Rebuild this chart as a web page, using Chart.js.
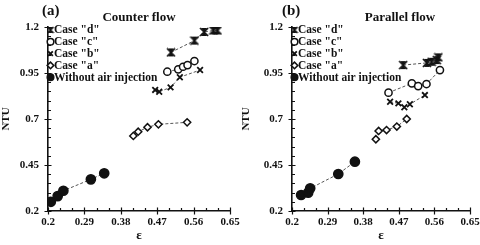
<!DOCTYPE html>
<html>
<head>
<meta charset="utf-8">
<script src="https://cdn.jsdelivr.net/npm/chart.js@4/dist/chart.umd.min.js"></script>
<style>
  html, body { margin: 0; padding: 0; background: #fff; }
  #wrap { position: relative; width: 480px; height: 245px; overflow: hidden;
          font-family: "Liberation Serif", "DejaVu Serif", serif; font-weight: bold; color: #111; }
  .panel { position: absolute; top: 0; width: 240px; height: 245px; }
  .tag { position: absolute; font-size: 15px; line-height: 1; }
  .ttl { position: absolute; font-size: 13px; line-height: 1; transform: translateX(-50%); white-space: nowrap; }
</style>
</head>
<body>
<div id="wrap">
  <div class="panel" style="left:0"><canvas id="chartA" width="240" height="245"></canvas></div>
  <div class="panel" style="left:240px"><canvas id="chartB" width="240" height="245"></canvas></div>
  <div class="tag" style="left:42px;top:3px">(a)</div>
  <div class="ttl" style="left:139px;top:10px">Counter flow</div>
  <div class="tag" style="left:282px;top:3px">(b)</div>
  <div class="ttl" style="left:400px;top:10px">Parallel flow</div>
</div>
<script>
// ---- data ----
const seriesNames = ['Case "d"', 'Case "c"', 'Case "b"', 'Case "a"', 'Without air injection'];

const xTicks = [0.2, 0.29, 0.38, 0.47, 0.56, 0.65];
const xTickLabels = ['0.2', '0.29', '0.38', '0.47', '0.56', '0.65'];
const yTicks = [0.2, 0.45, 0.7, 0.95, 1.2];
const yTickLabels = ['0.2', '0.45', '0.7', '0.95', '1.2'];

// (a) counter flow
const counterDEps = [0.504, 0.562, 0.586, 0.609, 0.619];
const counterDNtu = [1.062, 1.126, 1.173, 1.181, 1.181];
const counterCEps = [0.495, 0.522, 0.534, 0.545, 0.562];
const counterCNtu = [0.957, 0.970, 0.984, 0.993, 1.015];
const counterBEps = [0.465, 0.475, 0.503, 0.526, 0.576];
const counterBNtu = [0.858, 0.848, 0.872, 0.927, 0.966];
const counterAEps = [0.411, 0.423, 0.446, 0.473, 0.544];
const counterANtu = [0.608, 0.631, 0.655, 0.671, 0.682];
const counterWoEps = [0.207, 0.224, 0.238, 0.306, 0.339];
const counterWoNtu = [0.250, 0.281, 0.310, 0.372, 0.405];

// (b) parallel flow
const parallelDEps = [0.481, 0.541, 0.553, 0.566, 0.570];
const parallelDNtu = [0.993, 1.005, 1.011, 1.020, 1.035];
const parallelCEps = [0.444, 0.503, 0.519, 0.540, 0.574];
const parallelCNtu = [0.843, 0.894, 0.879, 0.890, 0.966];
const parallelBEps = [0.448, 0.469, 0.484, 0.498, 0.536];
const parallelBNtu = [0.794, 0.785, 0.764, 0.780, 0.830];
const parallelAEps = [0.412, 0.419, 0.439, 0.465, 0.490];
const parallelANtu = [0.590, 0.635, 0.640, 0.659, 0.700];
const parallelWoEps = [0.223, 0.241, 0.246, 0.317, 0.359];
const parallelWoNtu = [0.287, 0.300, 0.323, 0.401, 0.468];

const ink = '#111';
const serif = '"Liberation Serif", "DejaVu Serif", serif';
const xMinorStep = 0.03;
const yMinorStep = 0.05;

// hourglass-cross marker used for case "d"
function hourglassMarker(size) {
  const c = document.createElement('canvas');
  c.width = c.height = size;
  const g = c.getContext('2d');
  const m = 1, s = size - 1, h = size / 2;
  g.fillStyle = ink; g.strokeStyle = ink; g.lineWidth = 1.7;
  g.beginPath(); g.moveTo(m + 1, m); g.lineTo(s - 1, m); g.lineTo(h, h); g.closePath(); g.fill();
  g.beginPath(); g.moveTo(m + 1, s); g.lineTo(s - 1, s); g.lineTo(h, h); g.closePath(); g.fill();
  g.beginPath(); g.moveTo(m, m); g.lineTo(s, s); g.moveTo(s, m); g.lineTo(m, s); g.stroke();
  return c;
}
const markerD = hourglassMarker(10);
const markerDSmall = hourglassMarker(8);

const pts = (xs, ys) => xs.map((x, i) => ({ x: x, y: ys[i] }));

function series(label, xs, ys, look) {
  return Object.assign({
    label: label,
    data: pts(xs, ys),
    showLine: true,
    borderColor: '#555',
    borderWidth: 1,
    borderDash: [3, 2],
    pointBorderColor: ink,
    pointBackgroundColor: '#fff',
    pointBorderWidth: 1.5
  }, look);
}

// major ticks cross the axis, minor ticks point into the plot
const tickMarks = {
  id: 'tickMarks',
  afterDraw(chart) {
    const { ctx, chartArea: a, scales: { x, y } } = chart;
    ctx.save();
    ctx.strokeStyle = ink;
    ctx.lineWidth = 1.2;
    ctx.beginPath();
    for (let v = x.min; v <= x.max + 1e-9; v += xMinorStep) {
      const px = Math.round(x.getPixelForValue(v)) + 0.5;
      const major = xTicks.some(t => Math.abs(t - v) < 1e-6);
      ctx.moveTo(px, a.bottom + (major ? 3.5 : 0));
      ctx.lineTo(px, a.bottom - (major ? 3.5 : 3));
    }
    for (let v = y.min; v <= y.max + 1e-9; v += yMinorStep) {
      const py = Math.round(y.getPixelForValue(v)) + 0.5;
      const major = yTicks.some(t => Math.abs(t - v) < 1e-6);
      ctx.moveTo(a.left - (major ? 3.5 : 0), py);
      ctx.lineTo(a.left + (major ? 3.5 : 3), py);
    }
    ctx.stroke();
    ctx.restore();
  }
};

// legend sitting on the y axis, inside the plot, top-left
const insetLegend = {
  id: 'insetLegend',
  afterDraw(chart) {
    const { ctx, chartArea: a } = chart;
    ctx.save();
    ctx.font = 'bold 11.5px ' + serif;
    ctx.fillStyle = ink;
    ctx.textBaseline = 'middle';
    chart.data.datasets.forEach((ds, i) => {
      const cy = a.top + 3 + i * 11.8;
      const cx = a.left + 2.5;
      const r = Math.min(ds.pointRadius, 3.3);
      const style = ds.pointStyle === markerD ? markerDSmall : ds.pointStyle;
      ctx.save();
      ctx.fillStyle = ds.pointBackgroundColor;
      ctx.strokeStyle = ds.pointBorderColor;
      ctx.lineWidth = ds.pointBorderWidth;
      Chart.helpers.drawPoint(ctx, { pointStyle: style, radius: r, rotation: 0, borderWidth: ds.pointBorderWidth }, cx, cy);
      ctx.restore();
      ctx.fillText(ds.label, a.left + 6, cy + 0.5);
    });
    ctx.restore();
  }
};

function buildChart(id, s, yAxisWidth) {
  return new Chart(document.getElementById(id), {
    type: 'scatter',
    data: {
      datasets: [
        series(seriesNames[0], s.dEps, s.dNtu, { pointStyle: markerD, pointRadius: 5 }),
        series(seriesNames[1], s.cEps, s.cNtu, { pointStyle: 'circle', pointRadius: 3.6 }),
        series(seriesNames[2], s.bEps, s.bNtu, { pointStyle: 'crossRot', pointRadius: 4, pointBorderWidth: 1.8 }),
        series(seriesNames[3], s.aEps, s.aNtu, { pointStyle: 'rectRot', pointRadius: 3.6 }),
        series(seriesNames[4], s.woEps, s.woNtu, { pointStyle: 'circle', pointRadius: 4.6, pointBackgroundColor: ink })
      ]
    },
    options: {
      responsive: false,
      animation: false,
      layout: { padding: { top: 27, right: 10, left: 0, bottom: 0 } },
      plugins: {
        tooltip: { enabled: false },
        legend: { display: false }
      },
      scales: {
        x: {
          type: 'linear',
          min: 0.2,
          max: 0.65,
          afterBuildTicks: sc => { sc.ticks = xTicks.map(v => ({ value: v })); },
          afterFit: sc => { sc.height = 34; sc.paddingLeft = 0; sc.paddingRight = 0; },
          grid: { display: false, drawTicks: false },
          border: { display: true, color: ink, width: 1.6 },
          ticks: {
            padding: 5, color: ink, maxRotation: 0, autoSkip: false,
            font: { family: serif, size: 11, weight: 'bold' },
            callback: (v, i) => xTickLabels[i]
          },
          title: { display: true, text: 'ε', color: ink, font: { family: serif, size: 13, weight: 'bold' }, padding: { top: 0, bottom: 2 } }
        },
        y: {
          type: 'linear',
          min: 0.2,
          max: 1.2,
          afterBuildTicks: sc => { sc.ticks = yTicks.map(v => ({ value: v })); },
          afterFit: sc => { sc.width = yAxisWidth; sc.paddingTop = 0; sc.paddingBottom = 0; },
          grid: { display: false, drawTicks: false },
          border: { display: true, color: ink, width: 1.6 },
          ticks: {
            padding: 9, color: ink,
            font: { family: serif, size: 11, weight: 'bold' },
            callback: (v, i) => yTickLabels[i]
          },
          title: { display: true, text: 'NTU', color: ink, font: { family: serif, size: 11, weight: 'bold' }, padding: { top: 0, bottom: 0 } }
        }
      }
    },
    plugins: [tickMarks, insetLegend]
  });
}

buildChart('chartA', {
  dEps: counterDEps, dNtu: counterDNtu, cEps: counterCEps, cNtu: counterCNtu,
  bEps: counterBEps, bNtu: counterBNtu, aEps: counterAEps, aNtu: counterANtu,
  woEps: counterWoEps, woNtu: counterWoNtu
}, 48);

buildChart('chartB', {
  dEps: parallelDEps, dNtu: parallelDNtu, cEps: parallelCEps, cNtu: parallelCNtu,
  bEps: parallelBEps, bNtu: parallelBNtu, aEps: parallelAEps, aNtu: parallelANtu,
  woEps: parallelWoEps, woNtu: parallelWoNtu
}, 52);
</script>
</body>
</html>
